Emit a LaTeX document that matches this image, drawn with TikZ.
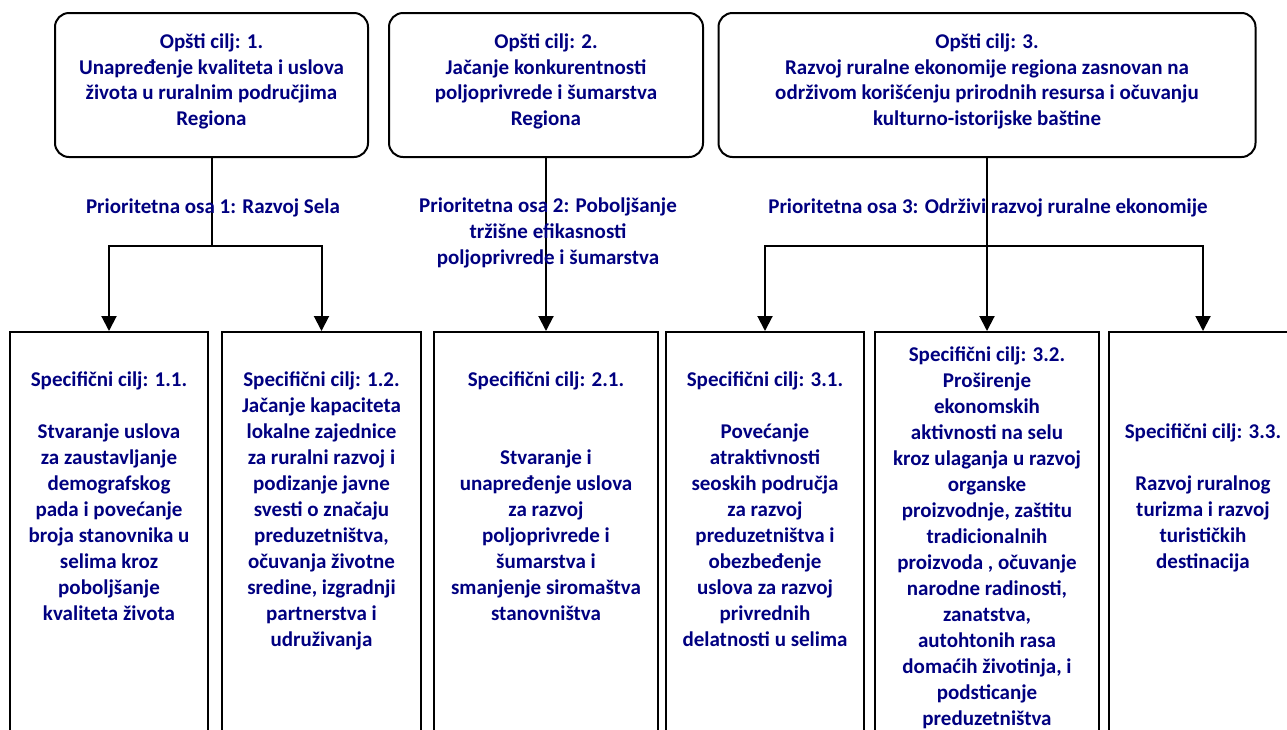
\documentclass[tikz,border=0pt]{standalone}
\usepackage{fontspec}
\setmainfont{Carlito}
\usetikzlibrary{positioning, arrows.meta}
\definecolor{navy1}{RGB}{0,0,128}
\tikzset{
  rect1/.style = {
    shape = rectangle,
    draw = black,
    line width = 2pt,
    rounded corners = 14pt,
    minimum height = 144pt,
  }
}
\tikzset{
  rect2/.style = {
    shape = rectangle,
    draw = black,
    line width = 2pt,
    minimum height = 430pt,
  }
}
\tikzset{
  text1/.style = {
    text = navy1,
    align = center,
    inner sep = 0pt,
    font = \bfseries\fontsize{21}{25.5}\selectfont,
  },
  text2/.style = {
    text1,
    font = \bfseries\fontsize{21}{26}\selectfont,
  }
}
\tikzset{
  line1/.style = {
    draw = black, line width = 2pt,
  },
  arrow1/.style = {
    draw = black, line width = 2pt, -{Triangle[length = 15pt, width = 15pt]},
  }
}

\begin{document}
\begin{tikzpicture}[x = 1pt, y = -1pt]
        \useasboundingbox (0,0) rectangle (1287,729);
        \clip (0,0) rectangle (1287,729);
        % general goals
        \node[rect1, minimum width = 313pt] (g1) at (211.5,85) {};
        \node[rect1, minimum width = 314pt] (g2) at (546,85) {};
        \node[rect1, minimum width = 537pt] (g3) at (987,85) {};
        \node[text1, below = 22pt of g1.north] (g1t) {Opšti cilj: 1.\\Unapređenje kvaliteta i uslova\\života u ruralnim područjima\\Regiona};
        \node[text1, below = 22pt of g2.north] (g2t) {Opšti cilj: 2.\\Jačanje konkurentnosti\\poljoprivrede i šumarstva\\Regiona};
        \node[text1, below = 22pt of g3.north] (g3t) {Opšti cilj: 3.\\Razvoj ruralne ekonomije regiona zasnovan na\\održivom korišćenju prirodnih resursa i očuvanju\\kulturno-istorijske baštine};
        % specific goals
        \node[rect2, minimum width = 198pt, anchor = north west] (s11) at (9,331) {};
        \node[rect2, minimum width = 199pt, right = 12pt of s11] (s12) {};
        \node[rect2, minimum width = 224pt, right = 11pt of s12] (s21) {};
        \node[rect2, minimum width = 198pt, right = 6pt of s21] (s31) {};
        \node[rect2, minimum width = 224pt, right = 9pt of s31] (s32) {};
        \node[rect2, minimum width = 188pt, right = 8pt of s32] (s33) {};
        \node[text2, below = 41pt of s11.north] (s11t) {Specifični cilj: 1.1.\\[26pt]Stvaranje uslova\\za zaustavljanje\\demografskog\\pada i povećanje\\broja stanovnika u\\selima kroz\\poboljšanje\\kvaliteta života};
        \node[text2, below = 41pt of s12.north] (s12t) {Specifični cilj: 1.2.\\Jačanje kapaciteta\\lokalne zajednice\\za ruralni razvoj i\\podizanje javne\\svesti o značaju\\preduzetništva,\\očuvanja životne\\sredine, izgradnji\\partnerstva i\\udruživanja};
        \node[text2, below = 41pt of s21.north] (s21t) {Specifični cilj: 2.1.\\[52pt]Stvaranje i\\unapređenje uslova\\za razvoj\\poljoprivrede i\\šumarstva i\\smanjenje siromaštva\\stanovništva};
        \node[text2, below = 41pt of s31.north] (s31t) {Specifični cilj: 3.1.\\[26pt]Povećanje\\atraktivnosti\\seoskih područja\\za razvoj\\preduzetništva i\\obezbeđenje\\uslova za razvoj\\privrednih\\delatnosti u selima};
        \node[text2, below = 16pt of s32.north] (s32t) {Specifični cilj: 3.2.\\Proširenje\\ekonomskih\\aktivnosti na selu\\kroz ulaganja u razvoj\\organske\\proizvodnje, zaštitu\\tradicionalnih\\proizvoda , očuvanje\\narodne radinosti,\\zanatstva,\\autohtonih rasa\\domaćih životinja, i\\podsticanje\\preduzetništva};
        \node[text2, below = 93pt of s33.north] (s33t) {Specifični cilj: 3.3.\\[26pt]Razvoj ruralnog\\turizma i razvoj\\turističkih\\destinacija};
        % priority axes
        \draw[line1](g1.south) -- ++(0,88) coordinate (j1);
        \draw[arrow1](j1) -| (s11.north);
        \draw[arrow1](j1) -| (s12.north);
        \draw[arrow1](g2.south) -- (s21.north);
        \draw[line1](g3.south) -- ++(0,88) coordinate (j3);
        \draw[arrow1](j3) -| (s31.north);
        \draw[arrow1](j3) -- (s32.north);
        \draw[arrow1](j3) -| (s33.north);
        \node[text2] (p1) at (213,208) {Prioritetna osa 1: Razvoj Sela};
        \node[text2] (p2) at (548,233) {Prioritetna osa 2: Poboljšanje\\tržišne efikasnosti\\poljoprivrede i šumarstva};
        \node[text2] (p3) at (988,208) {Prioritetna osa 3: Održivi razvoj ruralne ekonomije};
    \end{tikzpicture}
\end{document}
